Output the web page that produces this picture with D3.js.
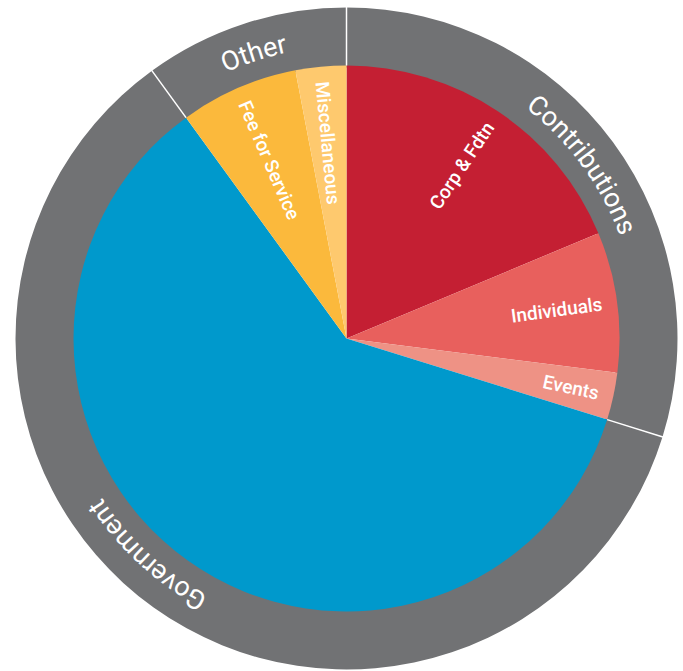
<!DOCTYPE html>
<html>
<head>
<meta charset="utf-8">
<script src="https://cdn.jsdelivr.net/npm/d3@7"></script>
<style>
  body { margin: 0; background: #fff; }
  text { font-family: Roboto, "Noto Sans", sans-serif; fill: #fff; }
</style>
</head>
<body>
<div id="chart"></div>
<script>
// revenue sources, percent of total, clockwise from 12 o'clock
var categories = ["Corp & Fdtn", "Individuals", "Events", "Government", "Fee for Service", "Miscellaneous"];
var values     = [18.7, 8.3, 2.8, 60.2, 7.0, 3.0];
var groupOf    = ["Contributions", "Contributions", "Contributions", "Government", "Other", "Other"];
var groups     = ["Contributions", "Government", "Other"];
var colors     = ["#c41f33", "#e8605d", "#ee9285", "#0099cc", "#fbb93c", "#fec96e"];

function init(){

    var w = 683;
    var h = 671;
    var cx = 346.5, cy = 338.5;
    var rPie = 273;
    var rRing = 331;
    var rRingText = 292;
    var rLabel = 258;

    var svg = d3.select("#chart")
                .append("svg")
                .attr("width", w)
                .attr("height", h);

    var g = svg.append("g")
               .attr("transform", "translate(" + cx + "," + cy + ")");

    var rad = Math.PI / 180;

    // outer ring: group totals
    var groupValues = groups.map(function(gr){
        return d3.sum(values.filter(function(v, i){ return groupOf[i] === gr; }));
    });

    var pie = d3.pie().sort(null).value(function(d){ return d; });
    var groupArcs = pie(groupValues);
    var sliceArcs = pie(values);

    var ringArc = d3.arc().innerRadius(rPie - 2).outerRadius(rRing);

    g.selectAll("path.ring")
        .data(groupArcs)
        .enter()
        .append("path")
        .attr("class", "ring")
        .attr("d", ringArc)
        .attr("fill", "#717274");

    // inner pie
    var sliceArc = d3.arc().innerRadius(0).outerRadius(rPie);

    g.selectAll("path.slice")
        .data(sliceArcs)
        .enter()
        .append("path")
        .attr("class", "slice")
        .attr("d", sliceArc)
        .attr("fill", function(d, i){ return colors[i]; });

    // white separators between groups in the ring
    g.selectAll("line.sep")
        .data(groupArcs)
        .enter()
        .append("line")
        .attr("class", "sep")
        .attr("x1", function(d){ return Math.sin(d.startAngle) * rPie; })
        .attr("y1", function(d){ return -Math.cos(d.startAngle) * rPie; })
        .attr("x2", function(d){ return Math.sin(d.startAngle) * (rRing + 2); })
        .attr("y2", function(d){ return -Math.cos(d.startAngle) * (rRing + 2); })
        .attr("stroke", "#fff")
        .attr("stroke-width", 1.5);

    // curved group labels (clockwise path, government sits a bit further round)
    var shift = { "Government": 7 * rad };

    function arcPath(a0, a1, r){
        var large = (a1 - a0) > Math.PI ? 1 : 0;
        return "M" + (Math.sin(a0) * r) + "," + (-Math.cos(a0) * r) +
               " A" + r + "," + r + " 0 " + large + " 1 " +
               (Math.sin(a1) * r) + "," + (-Math.cos(a1) * r);
    }

    var defs = svg.append("defs");
    defs.selectAll("path")
        .data(groupArcs)
        .enter()
        .append("path")
        .attr("id", function(d, i){ return "gp" + i; })
        .attr("d", function(d, i){
            var s = shift[groups[i]] || 0;
            return arcPath(d.startAngle + s, d.endAngle + s, rRingText);
        });

    g.selectAll("text.group")
        .data(groupArcs)
        .enter()
        .append("text")
        .attr("class", "group")
        .attr("font-size", "27px")
        .append("textPath")
        .attr("href", function(d, i){ return "#gp" + i; })
        .attr("startOffset", "50%")
        .attr("text-anchor", "middle")
        .text(function(d, i){ return groups[i]; });

    // radial slice labels, anchored near the rim
    // (a slice that is a whole group is named by the ring only)
    var labelled = sliceArcs.filter(function(d, i){
        return categories[i] !== groupOf[i];
    });

    g.selectAll("text.slice")
        .data(labelled)
        .enter()
        .append("text")
        .attr("class", "slice")
        .attr("font-size", "19px")
        .attr("font-weight", 500)
        .attr("dy", "0.35em")
        .attr("transform", function(d){
            var a = (d.startAngle + d.endAngle) / 2;
            var deg = a / rad;
            var x = Math.sin(a) * rLabel, y = -Math.cos(a) * rLabel;
            var rot = deg < 180 ? deg - 90 : deg + 90;
            return "translate(" + x + "," + y + ") rotate(" + rot + ")";
        })
        .attr("text-anchor", function(d){
            var a = (d.startAngle + d.endAngle) / 2;
            return a < Math.PI ? "end" : "start";
        })
        .text(function(d){ return categories[d.index]; });
}

window.onload = init;
</script>
</body>
</html>
